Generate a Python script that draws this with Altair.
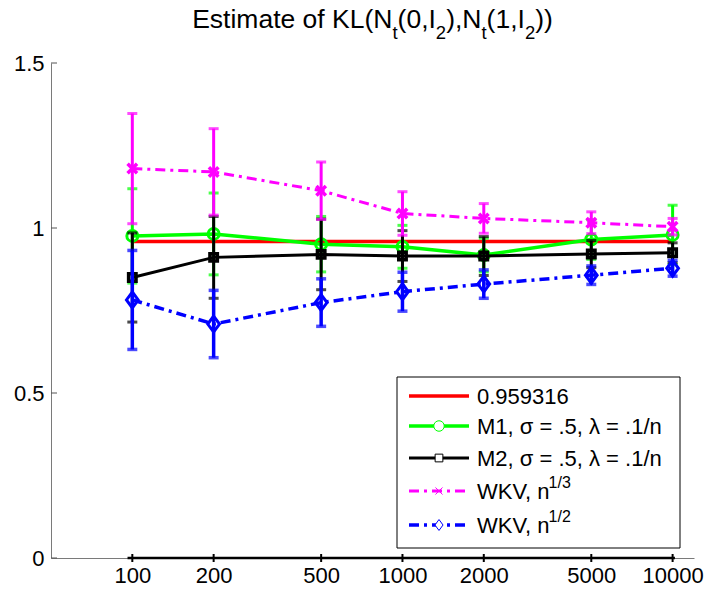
import altair as alt
import pandas as pd

# ---------------- data ----------------
n_values = [100, 200, 500, 1000, 2000, 5000, 10000]
true_kl = 0.959316

m1_mean = [0.976, 0.982, 0.951, 0.943, 0.918, 0.965, 0.979]
m1_err = [0.143, 0.124, 0.084, 0.065, 0.051, 0.060, 0.090]

m2_mean = [0.850, 0.911, 0.920, 0.915, 0.915, 0.921, 0.925]
m2_err = [0.135, 0.124, 0.107, 0.077, 0.059, 0.041, 0.030]

wkv3_mean = [1.180, 1.170, 1.113, 1.044, 1.029, 1.016, 1.004]
wkv3_err = [0.167, 0.131, 0.087, 0.066, 0.045, 0.033, 0.025]

wkv2_mean = [0.782, 0.709, 0.774, 0.807, 0.830, 0.857, 0.878]
wkv2_err = [0.150, 0.102, 0.072, 0.059, 0.043, 0.028, 0.024]

x_ticks = [100, 200, 500, 1000, 2000, 5000, 10000]
y_ticks = [0, 0.5, 1, 1.5]
x_domain = [50, 12000]
y_domain = [0, 1.5]
axis_bar = [96, 10200]

title_parts = [("Estimate of KL(N", "main"), ("t", "sub"), ("(0,I", "main"), ("2", "sub"),
               ("),N", "main"), ("t", "sub"), ("(1,I", "main"), ("2", "sub"), ("))", "main")]

legend_labels = ["0.959316", "M1, \u03c3 = .5, \u03bb = .1/n", "M2, \u03c3 = .5, \u03bb = .1/n",
                 "WKV, n", "WKV, n"]
legend_sups = ["", "", "", "1/3", "1/2"]

# ---------------- layout ----------------
W, H = 643, 495
FONT = "Liberation Sans"
RED, GREEN, BLACK, MAGENTA, BLUE = "#ff0000", "#00ff00", "#000000", "#ff00ff", "#0000ff"
DASHDOT = [10, 5, 3, 5]

# Arial / Liberation Sans advance widths (per 1000 em)
AW = {'E': 667, 's': 500, 't': 278, 'i': 222, 'm': 833, 'a': 556, 'e': 556, ' ': 278,
      'o': 556, 'f': 278, 'K': 667, 'L': 556, '(': 333, ')': 333, 'N': 722, '0': 556,
      '1': 556, '2': 556, ',': 278, 'I': 278, 'W': 944, 'V': 667, 'n': 556, '/': 278,
      '3': 556}


def text_width(s, size):
    return sum(AW.get(c, 556) for c in s) * size / 1000.0


xscale = alt.Scale(type="log", domain=x_domain, nice=False)
yscale = alt.Scale(domain=y_domain, nice=False, zero=False)

xaxis = alt.Axis(values=x_ticks, format="d", title=None, ticks=False, tickSize=0, grid=False,
                 domainColor="#7a7a7a", domainWidth=1, labelFont=FONT, labelFontSize=22,
                 labelColor="black", labelPadding=7, labelFlush=False, labelOverlap=False)
yaxis = alt.Axis(values=y_ticks, format="~g", title=None, ticks=False, tickSize=0, grid=False,
                 domainColor="#7a7a7a", domainWidth=1, labelFont=FONT, labelFontSize=22,
                 labelColor="black", labelPadding=7, labelFlush=False, labelOverlap=False)


def X(field="n"):
    return alt.X(f"{field}:Q", scale=xscale, axis=xaxis)


def Y(field="v"):
    return alt.Y(f"{field}:Q", scale=yscale, axis=yaxis)


def sdf(mean, err):
    return pd.DataFrame({"n": n_values, "v": mean,
                         "lo": [m - e for m, e in zip(mean, err)],
                         "hi": [m + e for m, e in zip(mean, err)]})


CAP = "M-1,0L1,0"
XMARK = "M-1,-1L1,1M-1,1L1,-1"
DIAMOND = "M0,-1.15L0.85,0L0,1.15L-0.85,0Z"


def series_layers(df, color, width, dash, shape, msize, mstroke, bar_w):
    base = alt.Chart(df)
    line_kw = dict(color=color, strokeWidth=width)
    if dash:
        line_kw["strokeDash"] = dash
    line = base.mark_line(**line_kw).encode(x=X(), y=Y())
    bars = base.mark_rule(color=color, strokeWidth=bar_w).encode(x=X(), y=Y("lo"), y2="hi:Q")
    cap_lo = base.mark_point(shape=CAP, size=100, filled=False, color=color,
                             strokeWidth=bar_w).encode(x=X(), y=Y("lo"))
    cap_hi = base.mark_point(shape=CAP, size=100, filled=False, color=color,
                             strokeWidth=bar_w).encode(x=X(), y=Y("hi"))
    marks = base.mark_point(shape=shape, size=msize, filled=False, color=color, opacity=1,
                            strokeWidth=mstroke).encode(x=X(), y=Y())
    return [line, bars, cap_lo, cap_hi, marks]


layers = []

# reference line
ref_df = pd.DataFrame({"n": [n_values[0], n_values[-1]], "v": [true_kl, true_kl]})
layers.append(alt.Chart(ref_df).mark_line(color=RED, strokeWidth=3.5).encode(x=X(), y=Y()))

layers += series_layers(sdf(m1_mean, m1_err), GREEN, 3.5, None, "circle", 120, 3, 3)
layers += series_layers(sdf(m2_mean, m2_err), BLACK, 3, None, "square", 55, 3.5, 3)
layers += series_layers(sdf(wkv3_mean, wkv3_err), MAGENTA, 3, DASHDOT, XMARK, 90, 3.5, 3)
layers += series_layers(sdf(wkv2_mean, wkv2_err), BLUE, 3.5, DASHDOT, DIAMOND, 190, 3, 3.5)

# axis decorations: thick black bar on x axis, crossing x ticks, inward y ticks
bar_df = pd.DataFrame({"n": [axis_bar[0]], "n2": [axis_bar[1]]})
layers.append(alt.Chart(bar_df).mark_rule(color="black", strokeWidth=2.5).encode(
    x=X(), x2="n2:Q", y=alt.value(H)))
xt_df = pd.DataFrame({"n": x_ticks})
layers.append(alt.Chart(xt_df).mark_rule(color="black", strokeWidth=2).encode(
    x=X(), y=alt.value(H - 4), y2=alt.value(H + 4)))
yt_df = pd.DataFrame({"v": y_ticks})
layers.append(alt.Chart(yt_df).mark_rule(color="#555555", strokeWidth=1).encode(
    y=Y(), x=alt.value(0), x2=alt.value(6)))

# legend (drawn by hand)
one = pd.DataFrame({"a": [0]})
LX0, LX1, LY0, LY1 = 346, 629, 314, 485
layers.append(alt.Chart(one).mark_rect(fill="white", stroke="black", strokeWidth=1).encode(
    x=alt.value(LX0), x2=alt.value(LX1), y=alt.value(LY0), y2=alt.value(LY1)))

entry_y = [333, 363, 395, 428, 462]
entry_col = [RED, GREEN, BLACK, MAGENTA, BLUE]
entry_w = [3.5, 3.5, 3, 3, 3.5]
entry_dash = [None, None, None, DASHDOT, DASHDOT]
entry_shape = [None, "circle", "square", XMARK, DIAMOND]
entry_msize = [0, 110, 60, 50, 90]
SX0, SX1, TX = 358, 418, 426
for i, yy in enumerate(entry_y):
    kw = dict(color=entry_col[i], strokeWidth=entry_w[i])
    if entry_dash[i]:
        kw["strokeDash"] = entry_dash[i]
    layers.append(alt.Chart(one).mark_rule(**kw).encode(
        x=alt.value(SX0), x2=alt.value(SX1), y=alt.value(yy)))
    if entry_shape[i]:
        layers.append(alt.Chart(one).mark_point(
            shape=entry_shape[i], size=entry_msize[i], filled=True, fill="white",
            stroke=entry_col[i], strokeWidth=1, opacity=1).encode(
            x=alt.value((SX0 + SX1) / 2), y=alt.value(yy)))
    layers.append(alt.Chart(one).mark_text(
        text=legend_labels[i], align="left", baseline="alphabetic", font=FONT,
        fontSize=22, color="black").encode(x=alt.value(TX), y=alt.value(yy + 8)))
    if legend_sups[i]:
        sx = TX + text_width(legend_labels[i], 22) - 3
        layers.append(alt.Chart(one).mark_text(
            text=legend_sups[i], align="left", baseline="alphabetic", font=FONT,
            fontSize=16, color="black").encode(x=alt.value(sx), y=alt.value(yy - 3)))

# title with subscripts
MAIN, SUB = 26.5, 18.5
widths = [text_width(s, MAIN if k == "main" else SUB) for s, k in title_parts]
cur = W / 2 - sum(widths) / 2
for (s, k), w in zip(title_parts, widths):
    layers.append(alt.Chart(one).mark_text(
        text=s, align="left", baseline="alphabetic", font=FONT,
        fontSize=MAIN if k == "main" else SUB, color="black").encode(
        x=alt.value(cur), y=alt.value(-35.3 if k == "main" else -24)))
    cur += w

chart = alt.layer(*layers).properties(
    width=W, height=H,
    autosize=alt.AutoSizeParams(type="none"),
    padding={"left": 51, "top": 63, "right": 12, "bottom": 31},
    background="white",
).configure_view(stroke=None)

chart.save("out.html", embed_options={"renderer": "svg", "actions": False})
